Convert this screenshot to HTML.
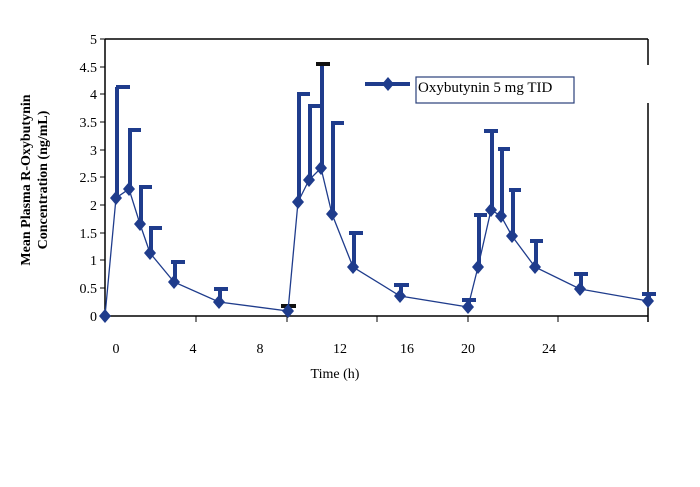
<!DOCTYPE html>
<html><head><style>body{margin:0;background:#fff}svg{display:block}text{font-family:"Liberation Serif",serif;fill:#000}</style></head>
<body>
<svg width="700" height="487" viewBox="0 0 700 487">
<g stroke="#000" stroke-width="1.5" fill="none">
<line x1="105" y1="39" x2="648" y2="39"/>
<line x1="105" y1="39" x2="105" y2="316"/>
<line x1="105" y1="316" x2="648" y2="316"/>
<line x1="648" y1="39" x2="648" y2="65"/>
<line x1="648" y1="103" x2="648" y2="322"/>
<g stroke-width="1">
<line x1="100" y1="39" x2="105" y2="39"/><line x1="100" y1="67" x2="105" y2="67"/><line x1="100" y1="94" x2="105" y2="94"/><line x1="100" y1="122" x2="105" y2="122"/><line x1="100" y1="150" x2="105" y2="150"/><line x1="100" y1="177" x2="105" y2="177"/><line x1="100" y1="205" x2="105" y2="205"/><line x1="100" y1="233" x2="105" y2="233"/><line x1="100" y1="260" x2="105" y2="260"/><line x1="100" y1="288" x2="105" y2="288"/><line x1="100" y1="316" x2="105" y2="316"/>
<line x1="196" y1="316" x2="196" y2="322"/><line x1="287" y1="316" x2="287" y2="322"/><line x1="377" y1="316" x2="377" y2="322"/><line x1="468" y1="316" x2="468" y2="322"/><line x1="558" y1="316" x2="558" y2="322"/>
</g></g>
<g font-size="14" text-anchor="end">
<text x="97" y="44">5</text><text x="97" y="72">4.5</text><text x="97" y="99">4</text><text x="97" y="127">3.5</text><text x="97" y="155">3</text><text x="97" y="182">2.5</text><text x="97" y="210">2</text><text x="97" y="238">1.5</text><text x="97" y="265">1</text><text x="97" y="293">0.5</text><text x="97" y="321">0</text>
</g>
<g font-size="14" text-anchor="middle">
<text x="116" y="353">0</text><text x="193" y="353">4</text><text x="260" y="353">8</text><text x="340" y="353">12</text><text x="407" y="353">16</text><text x="468" y="353">20</text><text x="549" y="353">24</text>
<text x="335" y="378">Time (h)</text>
</g>
<text transform="translate(30,180) rotate(-90)" font-size="14" font-weight="bold" text-anchor="middle">Mean Plasma R-Oxybutynin</text>
<text transform="translate(47,180) rotate(-90)" font-size="14" font-weight="bold" text-anchor="middle">Concentration (ng/mL)</text>
<g stroke="#1f3c8c" stroke-width="4" fill="none">
<path d="M117,198V87M116,87h14M130,189V130M128,130h13M141,224V187M139,187h13M151,253V228M149,228h13M175,282V262M171,262h14M220,302V289M214,289h14M299,202V94M297,94h13M310,180V106M308,106h13M322,168V64M333,214V123M331,123h13M354,267V233M349,233h14M401,296V285M394,285h15M479,267V215M474,215h13M492,210V131M484,131h14M502,216V149M498,149h12M513,236V190M509,190h12M536,267V241M530,241h13M581,289V274M574,274h14M649,301V294M642,294h14M469,307V300M462,300h14"/>
</g>
<g stroke="#111" stroke-width="4"><path d="M281,306h15M316,64h14"/></g>
<polyline fill="none" stroke="#1f3c8c" stroke-width="1.3" points="105,316 116,198 129,189 140,224 150,253 174,282 219,302 288,311 298,202 309,180 321,168 332,214 353,267 400,296 468,307 478,267 491,210 501,216 512,236 535,267 580,289 648,301"/>
<g fill="#1f3c8c">
<path id="d" d="M0,-7L6,0L0,7L-6,0Z" transform="translate(105,316)"/>
<path d="M0,-7L6,0L0,7L-6,0Z" transform="translate(116,198)"/><path d="M0,-7L6,0L0,7L-6,0Z" transform="translate(129,189)"/><path d="M0,-7L6,0L0,7L-6,0Z" transform="translate(140,224)"/><path d="M0,-7L6,0L0,7L-6,0Z" transform="translate(150,253)"/><path d="M0,-7L6,0L0,7L-6,0Z" transform="translate(174,282)"/><path d="M0,-7L6,0L0,7L-6,0Z" transform="translate(219,302)"/><path d="M0,-7L6,0L0,7L-6,0Z" transform="translate(288,311)"/><path d="M0,-7L6,0L0,7L-6,0Z" transform="translate(298,202)"/><path d="M0,-7L6,0L0,7L-6,0Z" transform="translate(309,180)"/><path d="M0,-7L6,0L0,7L-6,0Z" transform="translate(321,168)"/><path d="M0,-7L6,0L0,7L-6,0Z" transform="translate(332,214)"/><path d="M0,-7L6,0L0,7L-6,0Z" transform="translate(353,267)"/><path d="M0,-7L6,0L0,7L-6,0Z" transform="translate(400,296)"/><path d="M0,-7L6,0L0,7L-6,0Z" transform="translate(468,307)"/><path d="M0,-7L6,0L0,7L-6,0Z" transform="translate(478,267)"/><path d="M0,-7L6,0L0,7L-6,0Z" transform="translate(491,210)"/><path d="M0,-7L6,0L0,7L-6,0Z" transform="translate(501,216)"/><path d="M0,-7L6,0L0,7L-6,0Z" transform="translate(512,236)"/><path d="M0,-7L6,0L0,7L-6,0Z" transform="translate(535,267)"/><path d="M0,-7L6,0L0,7L-6,0Z" transform="translate(580,289)"/><path d="M0,-7L6,0L0,7L-6,0Z" transform="translate(648,301)"/>
<path d="M0,-7L6,0L0,7L-6,0Z" transform="translate(388,84)"/>
</g>
<line x1="365" y1="84" x2="410" y2="84" stroke="#1f3c8c" stroke-width="4"/>
<rect x="416" y="77" width="158" height="26" fill="#fff" stroke="#2a3f7a" stroke-width="1.2"/>
<text x="418" y="92" font-size="15">Oxybutynin 5 mg TID</text>
</svg>
</body></html>
